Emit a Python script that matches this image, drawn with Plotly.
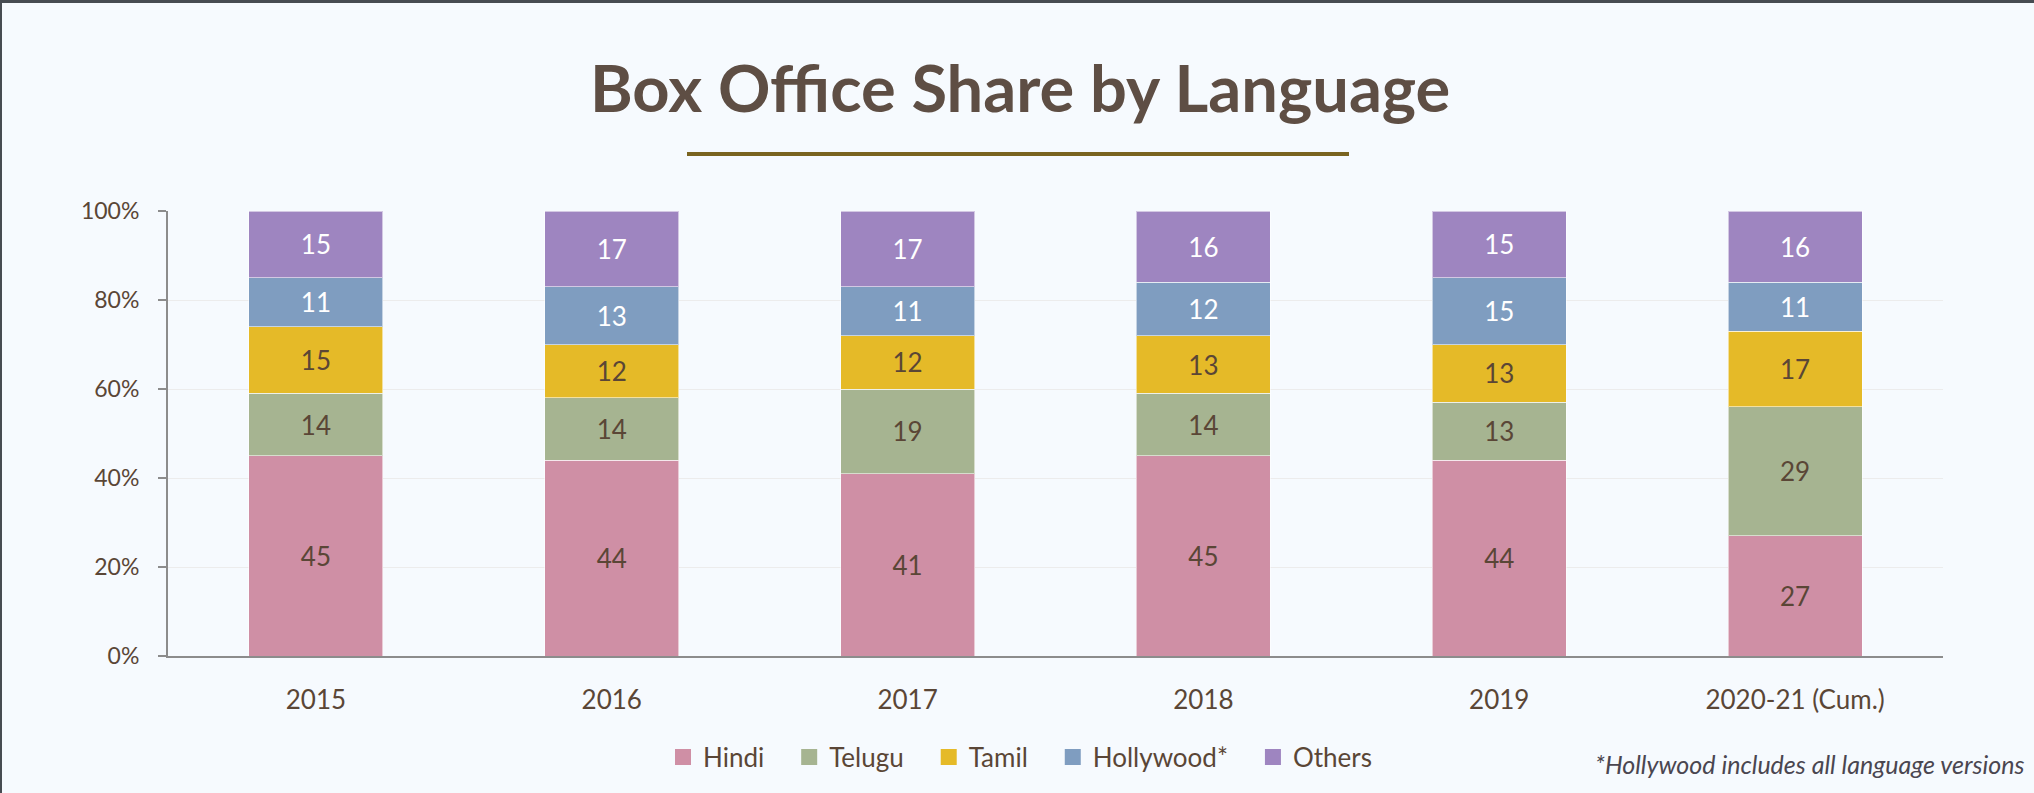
import plotly.graph_objects as go

years = ["2015", "2016", "2017", "2018", "2019", "2020-21 (Cum.)"]
hindi = [45, 44, 41, 45, 44, 27]
telugu = [14, 14, 19, 14, 13, 29]
tamil = [15, 12, 12, 13, 13, 17]
hollywood = [11, 13, 11, 12, 15, 11]
others = [15, 17, 17, 16, 15, 16]
series_names = ["Hindi", "Telugu", "Tamil", "Hollywood*", "Others"]
series_values = [hindi, telugu, tamil, hollywood, others]
colors = ["#CF8FA5", "#A6B491", "#E5BA28", "#7F9DC0", "#9E85C0"]
text_colors = ["#5A4636", "#5A4636", "#5A4636", "#FFFFFF", "#FFFFFF"]
y_ticks = [0, 20, 40, 60, 80, 100]
y_tick_labels = ["0%", "20%", "40%", "60%", "80%", "100%"]

W, H = 2034, 793
L, R, T, B = 168, 2034 - 1943, 211, 793 - 656
PW, PH = W - L - R, H - T - B


def px_x(x):
    return (x - L) / PW


def px_y(y):
    return (H - B - y) / PH


FONT = "Lato"
BROWN = "#5A4636"
PAD = "&nbsp;" * 3

fig = go.Figure()
for name, vals, col, tcol in zip(series_names, series_values, colors, text_colors):
    fig.add_trace(go.Bar(
        x=years, y=vals, name=name,
        marker=dict(color=col, line=dict(color="rgba(255,255,255,0.55)", width=1)),
        text=[str(v) for v in vals], textposition="inside",
        insidetextanchor="middle", textangle=0,
        insidetextfont=dict(family=FONT, size=26, color=tcol),
        showlegend=False, hoverinfo="skip",
    ))
    fig.add_trace(go.Scatter(
        x=[None], y=[None], mode="markers", name=name + PAD,
        marker=dict(symbol="square", size=16, color=col),
        showlegend=True, hoverinfo="skip",
    ))

fig.update_layout(
    width=W, height=H,
    margin=dict(l=L, r=R, t=T, b=B, autoexpand=False),
    paper_bgcolor="#F6FAFE", plot_bgcolor="#F6FAFE",
    barmode="stack", bargap=0.547,
    font=dict(family=FONT, color=BROWN),
    legend=dict(
        orientation="h", x=px_x(1030), xanchor="center",
        y=px_y(757), yanchor="middle", traceorder="normal",
        font=dict(family=FONT, size=26, color=BROWN),
        bgcolor="rgba(0,0,0,0)", itemclick=False, itemdoubleclick=False,
        tracegroupgap=0,
    ),
    xaxis=dict(
        showline=True, linecolor="#8C8C8C", linewidth=2,
        ticks="", showgrid=False,
        tickfont=dict(family=FONT, size=26, color=BROWN),
        ticklabelstandoff=20,
    ),
    yaxis=dict(
        range=[0, 100], tickvals=y_ticks, ticktext=y_tick_labels,
        showline=True, linecolor="#8C8C8C", linewidth=2,
        ticks="outside", ticklen=8, tickwidth=2, tickcolor="#8C8C8C",
        showgrid=True, gridcolor="#ECECEC", gridwidth=1,
        zeroline=False,
        tickfont=dict(family=FONT, size=23, color=BROWN),
        ticklabelstandoff=14,
    ),
    annotations=[
        dict(text="<b>Box Office Share by Language</b>", xref="paper", yref="paper",
             x=px_x(1020), y=px_y(87), xanchor="center", yanchor="middle",
             showarrow=False, font=dict(family=FONT, size=65, color="#5E4E44")),
        dict(text="<i>*Hollywood includes all language versions</i>", xref="paper", yref="paper",
             x=px_x(2026), y=px_y(764), xanchor="right", yanchor="middle",
             showarrow=False, font=dict(family=FONT, size=25, color="#4A4650")),
    ],
    shapes=[
        dict(type="line", xref="paper", yref="paper",
             x0=px_x(687), x1=px_x(1349), y0=px_y(154), y1=px_y(154),
             line=dict(color="#7A6420", width=4)),
        dict(type="rect", xref="paper", yref="paper",
             x0=px_x(0), x1=px_x(W), y0=px_y(0), y1=px_y(3),
             fillcolor="#474C52", line=dict(width=0)),
        dict(type="rect", xref="paper", yref="paper",
             x0=px_x(0), x1=px_x(2), y0=px_y(0), y1=px_y(H),
             fillcolor="#474C52", line=dict(width=0)),
    ],
)

fig.write_html(
    "out.html",
    config={"displayModeBar": False},
    post_script="document.body.style.margin='0';document.body.style.overflow='hidden';",
)
